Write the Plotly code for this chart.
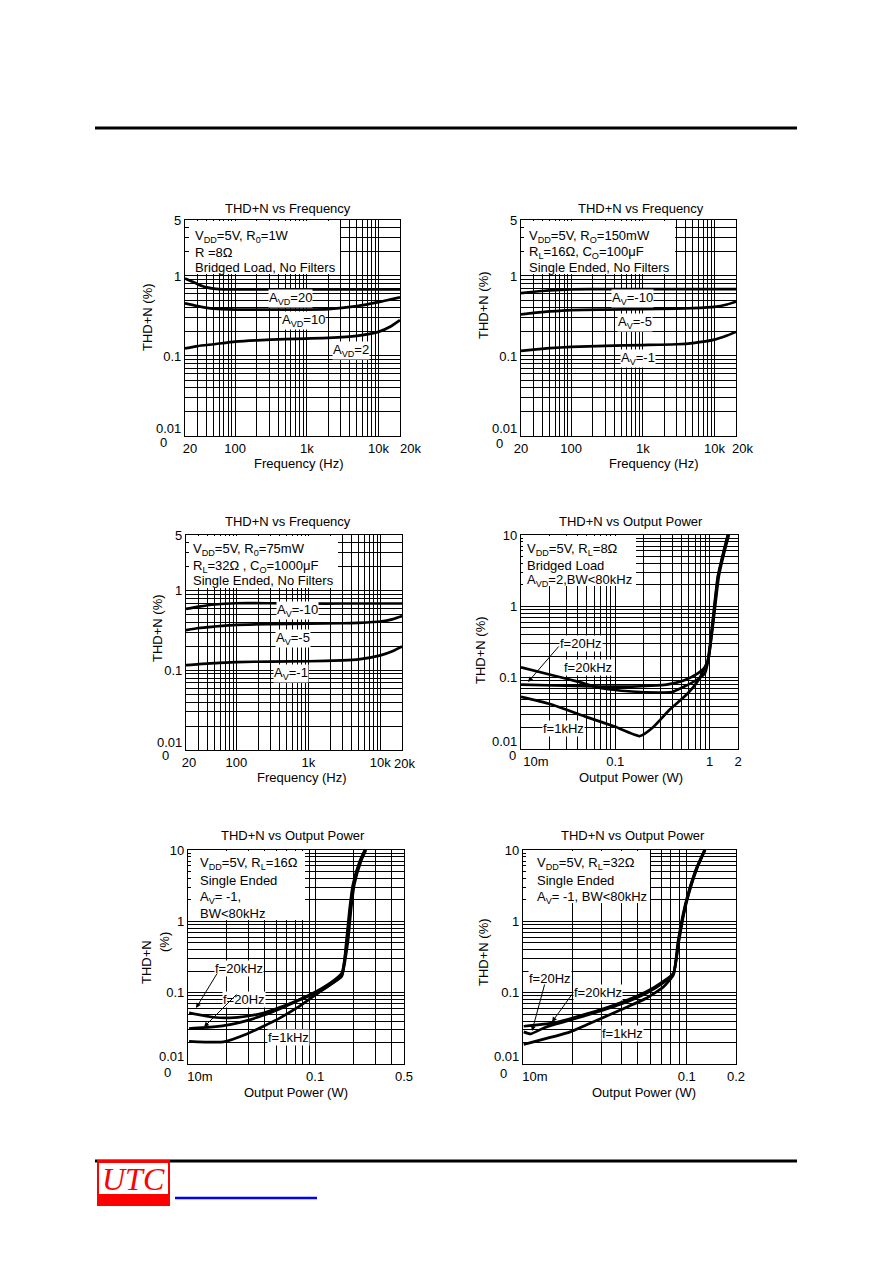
import math

import plotly.graph_objects as go

W, H = 892, 1263
FONT = "Liberation Sans, Arial, Helvetica, sans-serif"
FS = 13

# ---------------- panel 1: THD+N vs frequency, bridged 8 ohm ----------------
P1_FREQ_AVD20 = [20, 25, 30, 40, 50, 70, 200, 1000, 5000, 20000]
P1_THD_AVD20 = [0.93, 0.85, 0.79, 0.72, 0.695, 0.68, 0.68, 0.68, 0.68, 0.68]
P1_FREQ = [20, 30, 50, 100, 200, 500, 1000, 2000, 5000, 10000, 15000, 20000]
P1_THD_AVD10 = [0.455, 0.42, 0.39, 0.38, 0.38, 0.38, 0.38, 0.385, 0.42, 0.47, 0.51, 0.54]
P1_THD_AVD2 = [0.124, 0.133, 0.14, 0.151, 0.157, 0.162, 0.165, 0.168, 0.178, 0.2, 0.235, 0.28]

# ---------------- panel 2: single ended 16 ohm ----------------
P2_FREQ = [20, 30, 50, 100, 300, 1000, 3000, 5000, 10000, 15000, 20000]
P2_THD_AV10 = [0.61, 0.635, 0.66, 0.68, 0.685, 0.685, 0.685, 0.685, 0.685, 0.685, 0.685]
P2_THD_AV5 = [0.33, 0.345, 0.36, 0.375, 0.38, 0.385, 0.39, 0.395, 0.41, 0.44, 0.477]
P2_THD_AV1 = [0.116, 0.12, 0.125, 0.13, 0.134, 0.137, 0.14, 0.145, 0.16, 0.18, 0.2]

# ---------------- panel 3: single ended 32 ohm ----------------
P3_FREQ = [20, 30, 50, 100, 300, 1000, 3000, 5000, 10000, 15000, 20000]
P3_THD_AV10 = [0.59, 0.63, 0.67, 0.695, 0.695, 0.69, 0.69, 0.69, 0.69, 0.69, 0.69]
P3_THD_AV5 = [0.32, 0.34, 0.355, 0.373, 0.38, 0.385, 0.39, 0.395, 0.41, 0.44, 0.48]
P3_THD_AV1 = [0.116, 0.12, 0.123, 0.127, 0.129, 0.13, 0.133, 0.137, 0.154, 0.175, 0.199]

# ---------------- panel 4: THD+N vs output power, bridged 8 ohm ----------------
P4_POW_20HZ = [0.01, 0.021, 0.04, 0.071, 0.15, 0.28, 0.4, 0.54, 0.75, 0.89, 0.97, 1.1, 1.25, 1.42, 1.6]
P4_THD_20HZ = [0.14, 0.109, 0.088, 0.071, 0.064, 0.062, 0.063, 0.075, 0.095, 0.115, 0.18, 0.64, 2.6, 5.5, 10]
P4_POW_20KHZ = [0.01, 0.03, 0.071, 0.15, 0.24, 0.35, 0.54, 0.75, 0.89, 0.97, 1.09, 1.23, 1.4, 1.57]
P4_THD_20KHZ = [0.08, 0.077, 0.075, 0.075, 0.077, 0.08, 0.092, 0.115, 0.14, 0.18, 0.64, 2.6, 5.5, 10]
P4_POW_1KHZ = [0.01, 0.02, 0.05, 0.1, 0.183, 0.25, 0.38, 0.57, 0.75, 0.95, 1.08, 1.22, 1.39, 1.56]
P4_THD_1KHZ = [0.054, 0.043, 0.028, 0.0205, 0.0152, 0.02, 0.036, 0.058, 0.09, 0.17, 0.64, 2.6, 5.5, 10]

# ---------------- panel 5: single ended 16 ohm ----------------
P5_POW_20KHZ = [0.0102, 0.0158, 0.0214, 0.029, 0.0392, 0.053, 0.0717, 0.097, 0.131, 0.162, 0.178, 0.189, 0.2, 0.226, 0.248]
P5_THD_20KHZ = [0.052, 0.0452, 0.0443, 0.0467, 0.052, 0.0624, 0.0773, 0.099, 0.136, 0.188, 0.52, 1.53, 3.24, 6.9, 10]
P5_POW_20HZ = [0.0102, 0.0158, 0.0214, 0.029, 0.0392, 0.053, 0.0717, 0.097, 0.131, 0.162, 0.181, 0.192, 0.203, 0.229, 0.251]
P5_THD_20HZ = [0.0314, 0.0331, 0.0356, 0.0406, 0.0482, 0.0597, 0.0757, 0.096, 0.129, 0.175, 0.52, 1.53, 3.24, 6.9, 10]
P5_POW_1KHZ = [0.0102, 0.019, 0.029, 0.0392, 0.053, 0.0717, 0.097, 0.131, 0.162, 0.176, 0.187, 0.198, 0.224, 0.246]
P5_THD_1KHZ = [0.0208, 0.0204, 0.0264, 0.0338, 0.0443, 0.061, 0.089, 0.129, 0.169, 0.52, 1.53, 3.24, 6.9, 10]

# ---------------- panel 6: single ended 32 ohm ----------------
P6_POW_20HZ = [0.0101, 0.0154, 0.0245, 0.039, 0.057, 0.072, 0.083, 0.0895, 0.0957, 0.1025, 0.1155, 0.1295]
P6_THD_20HZ = [0.0338, 0.0377, 0.0504, 0.0718, 0.104, 0.144, 0.188, 0.52, 1.23, 2.35, 5.5, 10]
P6_POW_20KHZ = [0.0101, 0.0111, 0.0134, 0.0154, 0.0245, 0.039, 0.057, 0.072, 0.083, 0.089, 0.0953, 0.102, 0.115, 0.129]
P6_THD_20KHZ = [0.0282, 0.0264, 0.032, 0.0356, 0.0482, 0.068, 0.099, 0.138, 0.185, 0.52, 1.23, 2.35, 5.5, 10]
P6_POW_1KHZ = [0.0101, 0.0194, 0.0245, 0.039, 0.057, 0.072, 0.083, 0.0885, 0.0948, 0.1015, 0.1145, 0.1285]
P6_THD_1KHZ = [0.0188, 0.0282, 0.0356, 0.0566, 0.0841, 0.12, 0.179, 0.52, 1.23, 2.35, 5.5, 10]

# tick labels (value -> text); the 20k end label is set a little outside the frame
FREQ_TICKS = {20: "20", 100: "100", 1000: "1k", 10000: "10k"}
P4_TICKS = {0.01: "10m", 0.1: "0.1", 1: "1", 2: "2"}
P5_TICKS = {0.01: "10m", 0.1: "0.1", 0.5: "0.5"}
P6_TICKS = {0.01: "10m", 0.1: "0.1", 0.2: "0.2"}
THD5_TICKS = {0.01: "0.01", 0.1: "0.1", 1: "1", 5: "5"}
THD10_TICKS = {0.01: "0.01", 0.1: "0.1", 1: "1", 10: "10"}


def log_grid(lo, hi):
    vals = []
    dec = 1e-3
    while dec < hi * 10:
        for m in range(1, 10):
            v = round(m * dec, 8)
            if lo * 0.999 <= v <= hi * 1.001:
                vals.append(v)
        dec *= 10
    return vals


def px(x):
    return x / W


def py(y):
    return 1 - y / H


def log_axis(lo, hi, labels, domain, anchor, span_px, lo_shift_px=0.0):
    # the datasheet prints the label at the low end a few pixels inside the frame
    lift = 10 ** (lo_shift_px * math.log10(hi / lo) / span_px)
    vals = [v * lift if v == lo else v for v in labels]
    return dict(
        type="log", range=[math.log10(lo), math.log10(hi)], domain=domain, anchor=anchor,
        automargin=False, tickangle=0,
        tickmode="array", tickvals=vals, ticktext=list(labels.values()),
        showgrid=False,
        minor=dict(tickmode="array", tickvals=log_grid(lo, hi),
                   showgrid=True, gridcolor="black", gridwidth=1, ticks=""),
        showline=True, mirror=True, linecolor="black", linewidth=1.2,
        ticks="", zeroline=False, fixedrange=True,
        tickfont=dict(family=FONT, size=FS, color="black"),
    )


# panel frames in page pixels: x0, x1, ytop, ybottom
PANELS = [
    (185, 400, 220, 436),
    (521, 736, 220, 436),
    (186, 402, 535, 750),
    (521, 738, 535, 749),
    (188, 404, 850, 1064),
    (523, 736, 850, 1064),
]
X_RANGES = [(20, 20000, FREQ_TICKS)] * 3 + [(0.01, 2, P4_TICKS), (0.01, 0.5, P5_TICKS), (0.01, 0.2, P6_TICKS)]
Y_RANGES = [(0.01, 5, THD5_TICKS)] * 3 + [(0.01, 10, THD10_TICKS)] * 3
X_LO_SHIFT = [5, 0, 3, 15, 12, 12]

SERIES = [
    [(P1_FREQ_AVD20, P1_THD_AVD20), (P1_FREQ, P1_THD_AVD10), (P1_FREQ, P1_THD_AVD2)],
    [(P2_FREQ, P2_THD_AV10), (P2_FREQ, P2_THD_AV5), (P2_FREQ, P2_THD_AV1)],
    [(P3_FREQ, P3_THD_AV10), (P3_FREQ, P3_THD_AV5), (P3_FREQ, P3_THD_AV1)],
    [(P4_POW_20HZ, P4_THD_20HZ), (P4_POW_20KHZ, P4_THD_20KHZ), (P4_POW_1KHZ, P4_THD_1KHZ)],
    [(P5_POW_20KHZ, P5_THD_20KHZ), (P5_POW_20HZ, P5_THD_20HZ), (P5_POW_1KHZ, P5_THD_1KHZ)],
    [(P6_POW_20HZ, P6_THD_20HZ), (P6_POW_20KHZ, P6_THD_20KHZ), (P6_POW_1KHZ, P6_THD_1KHZ)],
]

fig = go.Figure()
layout_axes = {}
for i, (x0, x1, yt, yb) in enumerate(PANELS):
    n = "" if i == 0 else str(i + 1)
    xlo, xhi, xlab = X_RANGES[i]
    ylo, yhi, ylab = Y_RANGES[i]
    layout_axes["xaxis" + n] = log_axis(xlo, xhi, xlab, [px(x0), px(x1)], "y" + n,
                                        x1 - x0, X_LO_SHIFT[i])
    layout_axes["yaxis" + n] = log_axis(ylo, yhi, ylab, [py(yb), py(yt)], "x" + n,
                                        yb - yt, 8)
    for xs, ys in SERIES[i]:
        fig.add_trace(go.Scatter(
            x=xs, y=ys, mode="lines", xaxis="x" + n, yaxis="y" + n,
            line=dict(color="black", width=2.7, shape="spline", smoothing=0.5),
            hoverinfo="skip",
        ))

shapes = []
annotations = []


def text(x, y, s, size=FS, anchor="center", bg=None, angle=0):
    a = dict(x=px(x), y=py(y), xref="paper", yref="paper", text=s, showarrow=False,
             xanchor=anchor, yanchor="middle", textangle=angle,
             font=dict(family=FONT, size=size, color="black"))
    if bg:
        a.update(bgcolor=bg, borderpad=0)
    annotations.append(a)


def arrow(tail, tip):
    annotations.append(dict(
        x=px(tip[0]), y=py(tip[1]), xref="paper", yref="paper", text="",
        showarrow=True, ax=tail[0] - tip[0], ay=tail[1] - tip[1],
        arrowhead=2, arrowsize=1, arrowwidth=1, arrowcolor="black", standoff=0,
    ))


def white_box(x0, y0, x1, y1):
    shapes.append(dict(type="rect", xref="paper", yref="paper", x0=px(x0), x1=px(x1),
                       y0=py(y1), y1=py(y0), fillcolor="white", line_width=0, layer="above"))


# panel titles, axis titles and the odd "0" under each y axis
TITLES = ["THD+N vs Frequency"] * 3 + ["THD+N vs Output Power"] * 3
TITLE_POS = [(288, 208), (641, 208), (288, 521), (631, 521), (293, 835), (633, 835)]
XTITLES = ["Frequency (Hz)"] * 3 + ["Output Power (W)"] * 3
XTITLE_POS = [(299, 464), (654, 464), (302, 777), (631, 777), (296, 1092), (644, 1092)]
YTITLE_POS = [(147, 317), (483, 305), (157, 628), (480, 650), None, (483, 952)]
ZERO_POS = [(163, 442), (500, 443), (165, 755), (512, 755), (167, 1072), (503, 1073)]
END_20K_POS = [(410, 449), (742, 449), (404, 763)]

for i in range(6):
    text(*TITLE_POS[i], TITLES[i])
    text(*XTITLE_POS[i], XTITLES[i])
    if YTITLE_POS[i]:
        text(*YTITLE_POS[i], "THD+N (%)", angle=-90)
    text(*ZERO_POS[i], "0")
for pos in END_20K_POS:
    text(*pos, "20k")
text(147, 962, "THD+N", angle=-90)
text(164, 942, "(%)", angle=-90)

# condition boxes
BOXES = [
    ((189, 221, 340, 274), 193, [236, 252, 267],
     ["V<sub>DD</sub>=5V, R<sub>0</sub>=1W", "R =8\u03a9", "Bridged Load, No Filters"]),
    ((524, 221, 675, 274), 527, [236, 252, 267],
     ["V<sub>DD</sub>=5V, R<sub>O</sub>=150mW", "R<sub>L</sub>=16\u03a9, C<sub>O</sub>=100\u03bcF",
      "Single Ended, No Filters"]),
    ((189, 536, 338, 588), 191, [549, 566, 580],
     ["V<sub>DD</sub>=5V, R<sub>0</sub>=75mW", "R<sub>L</sub>=32\u03a9 , C<sub>O</sub>=1000\u03bcF",
      "Single Ended, No Filters"]),
    ((523, 536, 636, 586), 525, [549, 565, 580],
     ["V<sub>DD</sub>=5V, R<sub>L</sub>=8\u03a9", "Bridged Load", "A<sub>VD</sub>=2,BW<80kHz"]),
    ((191, 851, 305, 920), 198, [863, 880, 897, 913],
     ["V<sub>DD</sub>=5V, R<sub>L</sub>=16\u03a9", "Single Ended", "A<sub>V</sub>= -1,", "BW<80kHz"]),
    ((526, 851, 650, 903), 535, [863, 880, 897],
     ["V<sub>DD</sub>=5V, R<sub>L</sub>=32\u03a9", "Single Ended", "A<sub>V</sub>= -1, BW<80kHz"]),
]
for (bx0, by0, bx1, by1), tx, ys, lines in BOXES:
    white_box(bx0, by0, bx1, by1)
    for yy, s in zip(ys, lines):
        text(tx, yy, s, anchor="left")

# curve labels
CURVE_LABELS = [
    (290, 298, "A<sub>VD</sub>=20"), (303, 321, "A<sub>VD</sub>=10"), (351, 350, "A<sub>VD</sub>=2"),
    (632, 299, "A<sub>V</sub>=-10"), (635, 322, "A<sub>V</sub>=-5"), (638, 358, "A<sub>V</sub>=-1"),
    (297, 610, "A<sub>V</sub>=-10"), (293, 638, "A<sub>V</sub>=-5"), (291, 673, "A<sub>V</sub>=-1"),
    (581, 643, "f=20Hz"), (588, 668, "f=20kHz"), (563, 728, "f=1kHz"),
    (239, 968, "f=20kHz"), (244, 999, "f=20Hz"), (288, 1037, "f=1kHz"),
    (550, 978, "f=20Hz"), (598, 992, "f=20kHz"), (622, 1033, "f=1kHz"),
]
for lx, ly, s in CURVE_LABELS:
    text(lx, ly, s, bg="white")

arrow((560, 645), (528, 682))
arrow((218, 972), (196, 1008))
arrow((238, 993), (204, 1027))
arrow((545, 983), (532, 1031))
arrow((573, 993), (552, 1022))

# page header / footer
shapes.append(dict(type="line", xref="paper", yref="paper", x0=px(95), x1=px(797),
                   y0=py(128), y1=py(128), line=dict(color="black", width=3)))
shapes.append(dict(type="line", xref="paper", yref="paper", x0=px(95), x1=px(797),
                   y0=py(1161), y1=py(1161), line=dict(color="black", width=3)))
shapes.append(dict(type="rect", xref="paper", yref="paper", x0=px(97), x1=px(170),
                   y0=py(1206), y1=py(1160), fillcolor="#ff0000", line_width=0))
shapes.append(dict(type="rect", xref="paper", yref="paper", x0=px(99), x1=px(168),
                   y0=py(1194), y1=py(1163), fillcolor="white", line_width=0))
shapes.append(dict(type="line", xref="paper", yref="paper", x0=px(175), x1=px(317),
                   y0=py(1198), y1=py(1198), line=dict(color="#0000ff", width=2.5)))
annotations.append(dict(x=px(133), y=py(1179), xref="paper", yref="paper", text="<i>UTC</i>",
                        showarrow=False, xanchor="center", yanchor="middle",
                        font=dict(family="Liberation Serif, Times New Roman, serif", size=32,
                                  color="#ff0000")))

fig.update_layout(
    width=W, height=H, margin=dict(l=0, r=0, t=0, b=0, autoexpand=False),
    paper_bgcolor="white", plot_bgcolor="white", showlegend=False,
    shapes=shapes, annotations=annotations,
    font=dict(family=FONT, size=FS, color="black"),
    **layout_axes,
)

fig.write_html("out.html", config={"displayModeBar": False},
               post_script="document.body.style.margin='0';")
